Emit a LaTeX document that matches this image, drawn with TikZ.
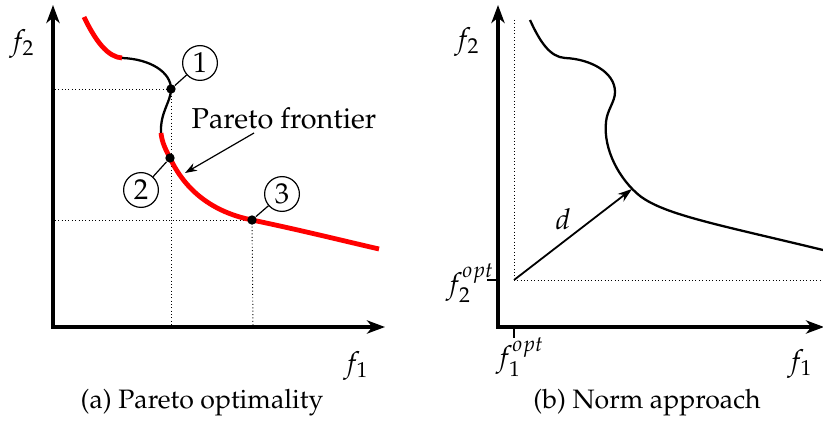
\documentclass[tikz,border=0pt]{standalone}
\usepackage[T1]{fontenc}
\usepackage{mathpazo}
\usetikzlibrary{arrows.meta}
\begin{document}
\begin{tikzpicture}[x=0.4167pt,y=-0.4167pt,
  axis/.style={line width=1.35pt,-{Stealth[length=7.5pt,width=5.5pt,inset=2.2pt]}},
  guide/.style={densely dotted,line width=0.4pt},
  front/.style={red,line width=2pt},
  curve/.style={black,line width=0.95pt},
  dot/.style={circle,fill=black,inner sep=0pt,minimum size=3.9pt},
  num/.style={circle,draw,line width=0.5pt,inner sep=0pt,minimum size=14.5pt,font=\large},
  pointer/.style={line width=0.5pt,-{Stealth[length=5pt,width=3.5pt]}},
  lbl/.style={inner sep=1pt,font=\large},
  captext/.style={inner sep=1pt,font=\fontsize{11.1}{13}\selectfont}]
\useasboundingbox (0,0) rectangle (823,426);
% ---------------- (a) ----------------
\coordinate (oa) at (53,327);
\coordinate (ya) at (53,5);
\coordinate (xa) at (385,327);
\coordinate (p1) at (171,89);
\coordinate (p2) at (170,158);
\coordinate (p3) at (252,220);
\draw[guide] (55,89) -- (p1);
\draw[guide] (p1) -- (171,327);
\draw[guide] (55,220) -- (p3);
\draw[guide] (p3) -- (253,327);
\draw[front] (84,17) .. controls (96,42) and (108,57) .. (122,58);
\draw[curve] (122,58) .. controls (150,59) and (171,72) .. (p1) .. controls (171,102) and (160,112) .. (161,133);
\draw[front] (161,133) .. controls (162,143) and (166,150) .. (p2) .. controls (185,190) and (212,212) .. (p3) .. controls (300,230) and (340,240) .. (379,249);
\node[dot] (d1) at (p1) {};
\node[dot] (d2) at (p2) {};
\node[dot] (d3) at (p3) {};
\draw[axis] (oa) -- (ya);
\draw[axis] ([xshift=-0.65pt]oa) -- (xa);
\node[num] (n1) at (200,63) {1};
\node[num] (n2) at (141,190) {2};
\node[num] (n3) at (282,194) {3};
\draw[line width=0.5pt] (d1) -- (n1);
\draw[line width=0.5pt] (d2) -- (n2);
\draw[line width=0.5pt] (d3) -- (n3);
\node[lbl] (pf) at (284,118) {Pareto frontier};
\coordinate (pft) at (185,173);
\draw[pointer] (254,133) -- (pft);
\node[lbl] (f2a) at (22,44) {$f_2$};
\node[lbl] (f1a) at (356,366) {$f_1$};
\node[captext] (capa) at (202,403) {(a) Pareto optimality};
% ---------------- (b) ----------------
\coordinate (ob) at (498,327);
\coordinate (yb) at (498,5);
\coordinate (xb) at (824,327);
\coordinate (opt) at (514,280);
\draw[guide] (514,20) -- (opt);
\draw[guide] (opt) -- (823,280);
\draw[curve] (530,20) .. controls (540,42) and (550,57) .. (565,58)
  .. controls (590,59) and (615,72) .. (615,92)
  .. controls (615,102) and (607,110) .. (606,122)
  .. controls (603,150) and (620,180) .. (640,196)
  .. controls (665,215) and (720,225) .. (823,250);
\coordinate (dt) at (632,189);
\draw[line width=0.75pt,-{Stealth[length=6pt,width=4pt]}] (opt) -- (dt);
\draw[axis] (ob) -- (yb);
\draw[axis] ([xshift=-0.65pt]ob) -- (xb);
\draw[line width=0.5pt] (487,280) -- (498,280);
\draw[line width=0.5pt] (514,327) -- (514,338);
\node[lbl] (d) at (563,219) {$d$};
\node[lbl,anchor=east] (f2o) at (497,283) {$f_2^{opt}$};
\node[lbl] (f1o) at (520,357) {$f_1^{opt}$};
\node[lbl] (f2b) at (467,42) {$f_2$};
\node[lbl] (f1b) at (800,364) {$f_1$};
\node[captext] (capb) at (647,403) {(b) Norm approach};
\end{tikzpicture}
\end{document}
